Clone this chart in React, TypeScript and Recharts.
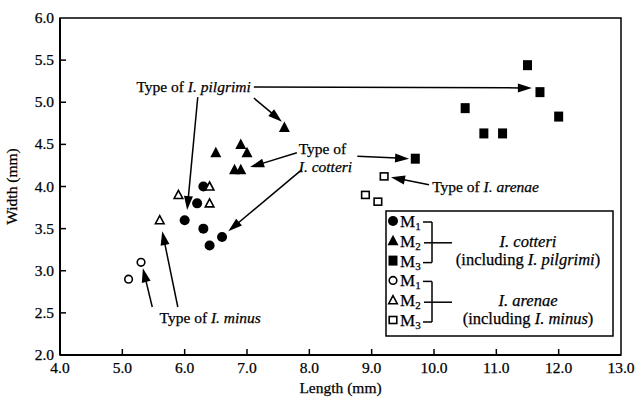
import React from 'react';
import {
  ScatterChart,
  Scatter,
  XAxis,
  YAxis,
  ReferenceArea,
  ReferenceLine,
  ReferenceDot,
  Legend,
} from 'recharts';

// ---- data ----
const cotteriM1 = [
  { x: 6.3, y: 4.0 }, { x: 6.2, y: 3.8 }, { x: 6.0, y: 3.6 },
  { x: 6.3, y: 3.5 }, { x: 6.6, y: 3.4 }, { x: 6.4, y: 3.3 },
];
const cotteriM2 = [
  { x: 6.5, y: 4.4 }, { x: 6.9, y: 4.5 }, { x: 7.0, y: 4.4 },
  { x: 6.8, y: 4.2 }, { x: 6.9, y: 4.2 }, { x: 7.6, y: 4.7 },
];
const cotteriM3 = [
  { x: 11.5, y: 5.44 }, { x: 11.7, y: 5.12 }, { x: 10.5, y: 4.93 },
  { x: 12.0, y: 4.83 }, { x: 10.8, y: 4.63 }, { x: 11.1, y: 4.63 },
  { x: 9.7, y: 4.33 },
];
const arenaeM1 = [{ x: 5.3, y: 3.1 }, { x: 5.1, y: 2.9 }];
const arenaeM2 = [
  { x: 6.4, y: 4.0 }, { x: 5.9, y: 3.9 }, { x: 6.4, y: 3.8 }, { x: 5.6, y: 3.6 },
];
const arenaeM3 = [{ x: 9.2, y: 4.12 }, { x: 8.9, y: 3.9 }, { x: 9.1, y: 3.82 }];

const xTicks = [4, 5, 6, 7, 8, 9, 10, 11, 12, 13];
const yTicks = [2, 2.5, 3, 3.5, 4, 4.5, 5, 5.5, 6];

// annotation arrows: [start, tip] in data units
const arrows = [
  [{ x: 7.11, y: 5.18 }, { x: 11.57, y: 5.17 }],
  [{ x: 7.11, y: 5.05 }, { x: 7.56, y: 4.77 }],
  [{ x: 6.21, y: 5.06 }, { x: 6.04, y: 3.72 }],
  [{ x: 7.8, y: 4.4 }, { x: 7.05, y: 4.23 }],
  [{ x: 7.88, y: 4.2 }, { x: 6.7, y: 3.47 }],
  [{ x: 8.77, y: 4.36 }, { x: 9.6, y: 4.33 }],
  [{ x: 9.92, y: 4.02 }, { x: 9.31, y: 4.11 }],
  [{ x: 5.48, y: 2.57 }, { x: 5.33, y: 3.03 }],
  [{ x: 5.89, y: 2.57 }, { x: 5.64, y: 3.47 }],
];

// text annotations
const notes = [
  { x: 7.06, y: 5.12, anchor: 'end', plain: 'Type of ', italic: 'I. pilgrimi' },
  { x: 7.83, y: 4.39, anchor: 'start', plain: 'Type of', italic: '' },
  { x: 7.83, y: 4.17, anchor: 'start', plain: '', italic: 'I. cotteri' },
  { x: 9.97, y: 3.93, anchor: 'start', plain: 'Type of ', italic: 'I. arenae' },
  { x: 6.41, y: 2.38, anchor: 'middle', plain: 'Type of ', italic: 'I. minus' },
];

const FONT = '"Liberation Serif", "Times New Roman", serif';
const TXT = { fill: '#000', stroke: '#000', strokeWidth: 0.25 };

const makeShape = (kind: string, filled: boolean) => (props: any) => {
  const { cx, cy } = props;
  if (cx == null || cy == null) return <g />;
  return <Symbol kind={kind} filled={filled} cx={cx} cy={cy} />;
};

const Symbol = ({ kind, filled, cx, cy }: any) => {
  const fill = filled ? '#000' : '#fff';
  const sw = filled ? 0 : 1.6;
  if (kind === 'circle') {
    return <circle cx={cx} cy={cy} r={filled ? 5 : 3.8} fill={fill} stroke="#000" strokeWidth={sw} />;
  }
  if (kind === 'triangle') {
    const pts = filled
      ? `${cx},${cy - 6} ${cx - 5.5},${cy + 4.5} ${cx + 5.5},${cy + 4.5}`
      : `${cx},${cy - 4.5} ${cx - 4.3},${cy + 3.5} ${cx + 4.3},${cy + 3.5}`;
    return <polygon points={pts} fill={fill} stroke="#000" strokeWidth={sw} strokeLinejoin="miter" />;
  }
  return filled ? (
    <rect x={cx - 4.5} y={cy - 5} width={9} height={10} fill="#000" />
  ) : (
    <rect x={cx - 3.8} y={cy - 3.5} width={7.6} height={7} fill="#fff" stroke="#000" strokeWidth={1.6} />
  );
};

const Arrow = (p: any) => {
  const { x1, y1, x2, y2 } = p;
  const dx = x2 - x1;
  const dy = y2 - y1;
  const len = Math.sqrt(dx * dx + dy * dy) || 1;
  const ux = dx / len;
  const uy = dy / len;
  const hl = 14;
  const hw = 4.5;
  const bx = x2 - ux * hl;
  const by = y2 - uy * hl;
  const pts = `${x2},${y2} ${bx - uy * hw},${by + ux * hw} ${bx + uy * hw},${by - ux * hw}`;
  return (
    <g>
      <line x1={x1} y1={y1} x2={bx + ux * 2} y2={by + uy * 2} stroke="#000" strokeWidth={1.5} />
      <polygon points={pts} fill="#000" />
    </g>
  );
};

const XTick = (props: any) => {
  const { x, y, payload } = props;
  const v = payload.value as number;
  const edge = v === 4 || v === 13;
  return (
    <g>
      {!edge && <line x1={x} x2={x} y1={y} y2={y - 6} stroke="#000" strokeWidth={1.5} />}
      <text x={x} y={y + 18} textAnchor="middle" fontSize={15.5} fontFamily={FONT} {...TXT}>
        {v.toFixed(1)}
      </text>
    </g>
  );
};

const YTick = (props: any) => {
  const { x, y, payload } = props;
  const v = payload.value as number;
  const edge = v === 2 || v === 6;
  return (
    <g>
      {!edge && <line x1={x} x2={x + 6} y1={y} y2={y} stroke="#000" strokeWidth={1.5} />}
      <text x={x - 6} y={y + 5} textAnchor="end" fontSize={15.5} fontFamily={FONT} {...TXT}>
        {v.toFixed(1)}
      </text>
    </g>
  );
};

const legendRows = [
  { kind: 'circle', filled: true, sub: '1' },
  { kind: 'triangle', filled: true, sub: '2' },
  { kind: 'square', filled: true, sub: '3' },
  { kind: 'circle', filled: false, sub: '1' },
  { kind: 'triangle', filled: false, sub: '2' },
  { kind: 'square', filled: false, sub: '3' },
];
const legendGroups = [
  { italic: 'I. cotteri', sub: 'I. pilgrimi' },
  { italic: 'I. arenae', sub: 'I. minus' },
];

const LegendBox = () => {
  const rowY = (i: number) => 11 + i * 19.8;
  return (
    <svg width={229} height={127} style={{ display: 'block' }}>
      <rect x={1} y={1} width={227} height={125} fill="#fff" stroke="#000" strokeWidth={1.5} />
      {legendRows.map((r, i) => (
        <g key={i}>
          <Symbol kind={r.kind} filled={r.filled} cx={8} cy={rowY(i)} />
          <text x={15} y={rowY(i) + 6} fontSize={17} fontFamily={FONT} {...TXT}>
            M<tspan fontSize={11} dy={3}>{r.sub}</tspan>
          </text>
        </g>
      ))}
      {legendGroups.map((g, gi) => {
        const top = rowY(gi * 3);
        const mid = rowY(gi * 3 + 1);
        const bot = rowY(gi * 3 + 2);
        return (
          <g key={gi}>
            <line x1={38} x2={47} y1={top + 1} y2={top + 1} stroke="#000" strokeWidth={1.5} />
            <line x1={38} x2={47} y1={bot + 2} y2={bot + 2} stroke="#000" strokeWidth={1.5} />
            <line x1={47} x2={47} y1={top + 1} y2={bot + 2} stroke="#000" strokeWidth={1.5} />
            <line x1={39} x2={67} y1={mid + 2} y2={mid + 2} stroke="#000" strokeWidth={1.5} />
            <text x={143} y={mid + 6} textAnchor="middle" fontSize={16.5} fontFamily={FONT} fontStyle="italic" {...TXT}>
              {g.italic}
            </text>
            <text x={143} y={mid + 24} textAnchor="middle" fontSize={16.5} fontFamily={FONT} {...TXT}>
              (including <tspan fontStyle="italic">{g.sub}</tspan>)
            </text>
          </g>
        );
      })}
    </svg>
  );
};

export default function App() {
  return (
    <div style={{ position: 'absolute', left: 0, top: 0, background: '#fff' }}>
      <ScatterChart width={640} height={401} margin={{ top: 18, right: 19, bottom: 0, left: 0 }}>
        <XAxis
          type="number"
          dataKey="x"
          domain={[4, 13]}
          ticks={xTicks}
          interval={0}
          height={46}
          tickSize={0}
          tickMargin={0}
          tickLine={false}
          axisLine={{ stroke: '#000', strokeWidth: 2 }}
          tick={<XTick />}
          label={(lp: any) => {
            const vb = lp.viewBox || { x: 60, y: 355, width: 561 };
            return (
              <text x={vb.x + vb.width / 2} y={vb.y + 38} textAnchor="middle" fontSize={15.5} fontFamily={FONT} {...TXT}>
                Length (mm)
              </text>
            );
          }}
        />
        <YAxis
          type="number"
          dataKey="y"
          domain={[2, 6]}
          ticks={yTicks}
          interval={0}
          width={60}
          tickSize={0}
          tickMargin={0}
          tickLine={false}
          axisLine={{ stroke: '#000', strokeWidth: 2 }}
          tick={<YTick />}
          label={(lp: any) => {
            const vb = lp.viewBox || { x: 0, y: 18, height: 337 };
            const cx = vb.x + 17;
            const cy = vb.y + vb.height / 2;
            return (
              <text x={cx} y={cy} transform={`rotate(-90 ${cx} ${cy})`} textAnchor="middle" fontSize={15.5} fontFamily={FONT} {...TXT}>
                Width (mm)
              </text>
            );
          }}
        />
        <ReferenceArea x1={4} x2={13} y1={2} y2={6} fill="none" stroke="#000" strokeWidth={1.5} fillOpacity={0} />
        {arrows.map((a, i) => (
          <ReferenceLine key={`a${i}`} segment={a} shape={(p: any) => <Arrow {...p} />} />
        ))}
        {notes.map((n, i) => (
          <ReferenceDot
            key={`n${i}`}
            x={n.x}
            y={n.y}
            r={0}
            shape={(p: any) => (
              <text x={p.cx} y={p.cy} textAnchor={n.anchor as any} fontSize={15.5} fontFamily={FONT} {...TXT}>
                {n.plain}
                {n.italic && <tspan fontStyle="italic">{n.italic}</tspan>}
              </text>
            )}
          />
        ))}
        <Scatter name="I. cotteri M1" data={cotteriM1} shape={makeShape('circle', true)} isAnimationActive={false} />
        <Scatter name="I. cotteri M2" data={cotteriM2} shape={makeShape('triangle', true)} isAnimationActive={false} />
        <Scatter name="I. cotteri M3" data={cotteriM3} shape={makeShape('square', true)} isAnimationActive={false} />
        <Scatter name="I. arenae M1" data={arenaeM1} shape={makeShape('circle', false)} isAnimationActive={false} />
        <Scatter name="I. arenae M2" data={arenaeM2} shape={makeShape('triangle', false)} isAnimationActive={false} />
        <Scatter name="I. arenae M3" data={arenaeM3} shape={makeShape('square', false)} isAnimationActive={false} />
        <Legend
          layout="horizontal"
          verticalAlign="middle"
          align="center"
          content={() => <LegendBox />}
          wrapperStyle={{ position: 'absolute', left: 385, top: 210, width: 229, height: 127 }}
        />
      </ScatterChart>
    </div>
  );
}
